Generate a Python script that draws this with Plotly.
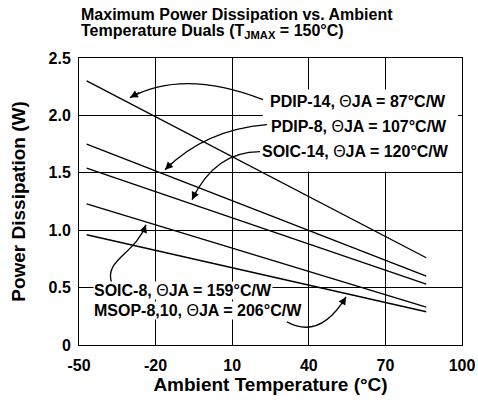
import plotly.graph_objects as go

# Ambient temperature range of each derating line (deg C)
temps = [-47, 86]

# Power dissipation at the start / end of the range (W)
pdip14 = [2.30, 0.76]
pdip8 = [1.75, 0.60]
soic14 = [1.54, 0.53]
soic8 = [1.23, 0.33]
msop = [0.96, 0.29]

series = [pdip14, pdip8, soic14, soic8, msop]

x_ticks = [-50, -20, 10, 40, 70, 100]
x_ticktext = ["-50", "-20", "10", "40", "70", "100"]
y_ticks = [0, 0.5, 1.0, 1.5, 2.0, 2.5]
y_ticktext = ["0", "0.5", "1.0", "1.5", "2.0", "2.5"]

TH = '<span style="font-weight:normal">\u0398</span>'
labels = [
    ("PDIP-14, " + TH + "JA = 87°C/W", 24.4, 2.12),
    ("PDIP-8, " + TH + "JA = 107°C/W", 24.8, 1.905),
    ("SOIC-14, " + TH + "JA = 120°C/W", 21.3, 1.684),
    ("SOIC-8, " + TH + "JA = 159°C/W", -44.4, 0.475),
    ("MSOP-8,10, " + TH + "JA = 206°C/W", -44.4, 0.30),
]

# curved callout arrows: start, control point(s), tip
arrows = [
    [(22.06, 2.138), (-9.07, 2.408), (-30.03, 2.155)],
    [(23.6, 1.920), (-0.65, 1.876), (-16.3, 1.527)],
    [(20.9, 1.684), (3.26, 1.684), (-5.74, 1.265)],
    [(-37.1, 0.532), (-40.6, 0.742), (-28.07, 0.785), (-23.8, 1.047)],
    [(31.46, 0.201), (44.4, 0.0436), (54.57, 0.419)],
]

FONT = "Arial, Liberation Sans, sans-serif"
BOLD16 = dict(family=FONT, size=16, color="black", weight="bold")

fig = go.Figure()

for vals in series:
    fig.add_trace(go.Scatter(
        x=temps, y=vals, mode="lines",
        line=dict(color="black", width=1.4),
        showlegend=False, hoverinfo="skip"
    ))

# white box behind the upper labels (hides the grid)
fig.add_shape(type="rect", xref="x", yref="y", x0=22.0, x1=98.5, y0=1.51, y1=2.225,
              fillcolor="white", line_width=0, layer="between")

for text, x, y in labels:
    fig.add_annotation(x=x, y=y, text=text, showarrow=False, xanchor="left",
                       yanchor="middle", bgcolor="white", borderpad=0, font=BOLD16)

for pts in arrows:
    if len(pts) == 3:
        path = "M {},{} Q {},{} {},{}".format(*pts[0], *pts[1], *pts[2])
    else:
        path = "M {},{} C {},{} {},{} {},{}".format(*pts[0], *pts[1], *pts[2], *pts[3])
    fig.add_shape(type="path", xref="x", yref="y", path=path,
                  line=dict(color="black", width=1.3))
    tip, ctrl = pts[-1], pts[-2]
    fig.add_annotation(x=tip[0], y=tip[1], axref="x", ayref="y",
                       ax=tip[0] - 0.2 * (tip[0] - ctrl[0]),
                       ay=tip[1] - 0.2 * (tip[1] - ctrl[1]),
                       text="", showarrow=True, arrowhead=2, arrowsize=1.2,
                       arrowwidth=1.3, arrowcolor="black")

# chart title, two lines left aligned with the plot
fig.add_annotation(text="Maximum Power Dissipation vs. Ambient",
                   xref="paper", yref="paper", x=0, y=1.153, xanchor="left",
                   yanchor="middle", showarrow=False, font=BOLD16)
fig.add_annotation(text="Temperature Duals (T<sub>JMAX</sub> = 150°C)",
                   xref="paper", yref="paper", x=0, y=1.094, xanchor="left",
                   yanchor="middle", showarrow=False, font=BOLD16)

fig.update_layout(
    width=478, height=402,
    margin=dict(l=79, r=16, t=58, b=57),
    paper_bgcolor="white", plot_bgcolor="white",
    font=BOLD16,
    xaxis=dict(
        range=[-50, 100], tickvals=x_ticks, ticktext=x_ticktext, showgrid=True,
        gridcolor="black", gridwidth=1, automargin=False, ticklabelstandoff=6,
        showline=True, linecolor="black", linewidth=1, mirror=True, zeroline=False,
        ticks="", title=dict(text="Ambient Temperature (°C)", standoff=3)
    ),
    yaxis=dict(
        range=[0, 2.5], tickvals=y_ticks, ticktext=y_ticktext, showgrid=True,
        gridcolor="black", gridwidth=1, showline=True, linecolor="black", linewidth=1,
        mirror=True, zeroline=False, ticks="", automargin=False, ticklabelstandoff=4,
        title=dict(text="Power Dissipation (W)", standoff=17)
    ),
)

# drop the page's default 8px body margin so the figure fills the window exactly
fig.write_html("out.html", config={"displayModeBar": False},
               post_script="document.body.style.margin = '0';")
